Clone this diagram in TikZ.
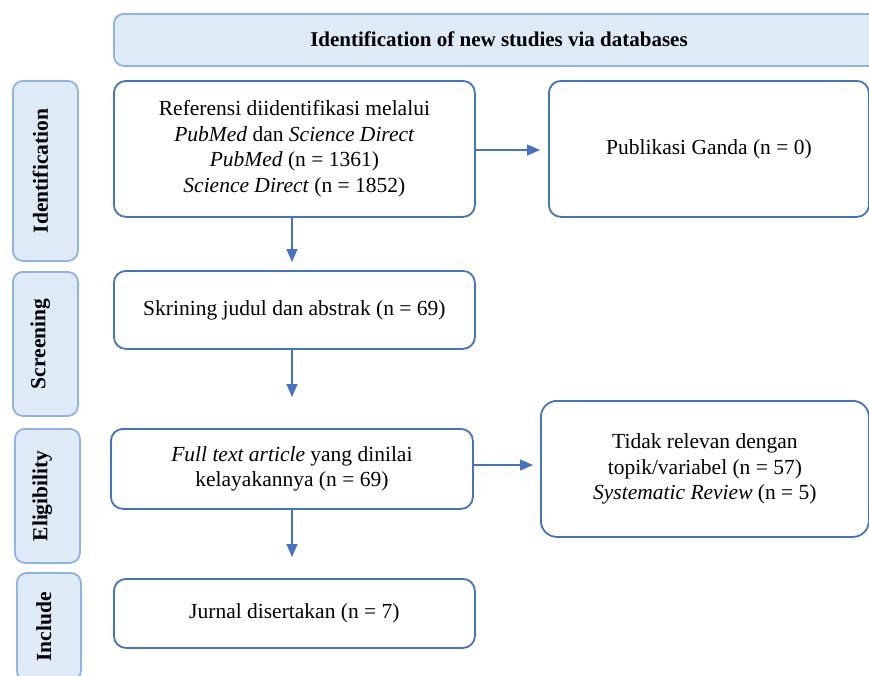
\documentclass[tikz,border=0pt]{standalone}
\usepackage{fontspec}
\setmainfont{Liberation Serif}
\usetikzlibrary{arrows.meta}
\definecolor{mainblue}{HTML}{4472C4}
\definecolor{lightfill}{HTML}{DEEAF6}
\definecolor{lightline}{HTML}{8DB4E2}
\tikzset{
  mainbox/.style={draw=mainblue, line width=1.8pt, fill=white, rounded corners=12pt, inner sep=0pt, align=center, font=\fontsize{21.5}{25.5}\selectfont},
  sidebox/.style={draw=lightline, line width=1.8pt, fill=lightfill, rounded corners=10pt, inner sep=0pt},
  sidetext/.style={rotate=90, font=\fontsize{21.5}{25}\selectfont\bfseries},
  arr/.style={draw=mainblue, line width=1.2pt, -{Triangle[length=13pt,width=11pt]}}
}
\begin{document}
\begin{tikzpicture}[x=1pt,y=-1pt]
\clip (0,0) rectangle (869,675);
\fill[white] (0,0) rectangle (869,675);
% header
\node[sidebox, minimum width=780pt, minimum height=52pt, anchor=north west] (hdr) at (113,13) {};
\node[font=\fontsize{21}{25}\selectfont\bfseries] (hdrt) at (499,39) {Identification of new studies via databases};
% side labels
\node[sidebox, minimum width=65pt, minimum height=180pt, anchor=north west] (sid) at (12,80) {};
\node[sidetext] (sidt) at ([xshift=-5pt]sid.center) {Identification};
\node[sidebox, minimum width=65pt, minimum height=144pt, anchor=north west] (ssc) at (12,271) {};
\node[sidetext] (ssct) at ([xshift=-5pt]ssc.center) {Screening};
\node[sidebox, minimum width=65pt, minimum height=134pt, anchor=north west] (sel) at (14,428) {};
\node[sidetext] (selt) at ([xshift=-5pt]sel.center) {Eligibility};
\node[sidebox, minimum width=64pt, minimum height=108pt, anchor=north west] (sin) at (16,572) {};
\node[sidetext] (sint) at ([xshift=-5pt]sin.center) {Include};
% main boxes
\node[mainbox, minimum width=361pt, minimum height=136pt, anchor=north west] (b1) at (113,80)
  {Referensi diidentifikasi melalui\\\textit{PubMed} dan \textit{Science Direct}\\\textit{PubMed} (n = 1361)\\\textit{Science Direct} (n = 1852)};
\node[mainbox, minimum width=320pt, minimum height=136pt, anchor=north west] (dup) at (548,80)
  {Publikasi Ganda (n = 0)};
\node[mainbox, minimum width=361pt, minimum height=78pt, anchor=north west] (b2) at (113,270)
  {Skrining judul dan abstrak (n = 69)};
\node[mainbox, minimum width=362pt, minimum height=80pt, anchor=north west] (b3) at (110,428)
  {\textit{Full text article} yang dinilai\\kelayakannya (n = 69)};
\node[mainbox, rounded corners=16pt, minimum width=328pt, minimum height=136pt, anchor=north west] (exc) at (540,400)
  {Tidak relevan dengan\\topik/variabel (n = 57)\\\textit{Systematic Review} (n = 5)};
\node[mainbox, minimum width=361pt, minimum height=69pt, anchor=north west] (b4) at (113,578)
  {Jurnal disertakan (n = 7)};
% arrow ends
\coordinate (e1) at (292,262);
\coordinate (e2) at (540,150);
\coordinate (e3) at (292,397);
\coordinate (e4) at (533,465);
\coordinate (e5) at (292,557);
\draw[arr] (b1.south -| e1) -- (e1);
\draw[arr] (b1.east |- e2) -- (e2);
\draw[arr] (b2.south -| e3) -- (e3);
\draw[arr] (b3.east |- e4) -- (e4);
\draw[arr] (b3.south -| e5) -- (e5);
\end{tikzpicture}
\end{document}
